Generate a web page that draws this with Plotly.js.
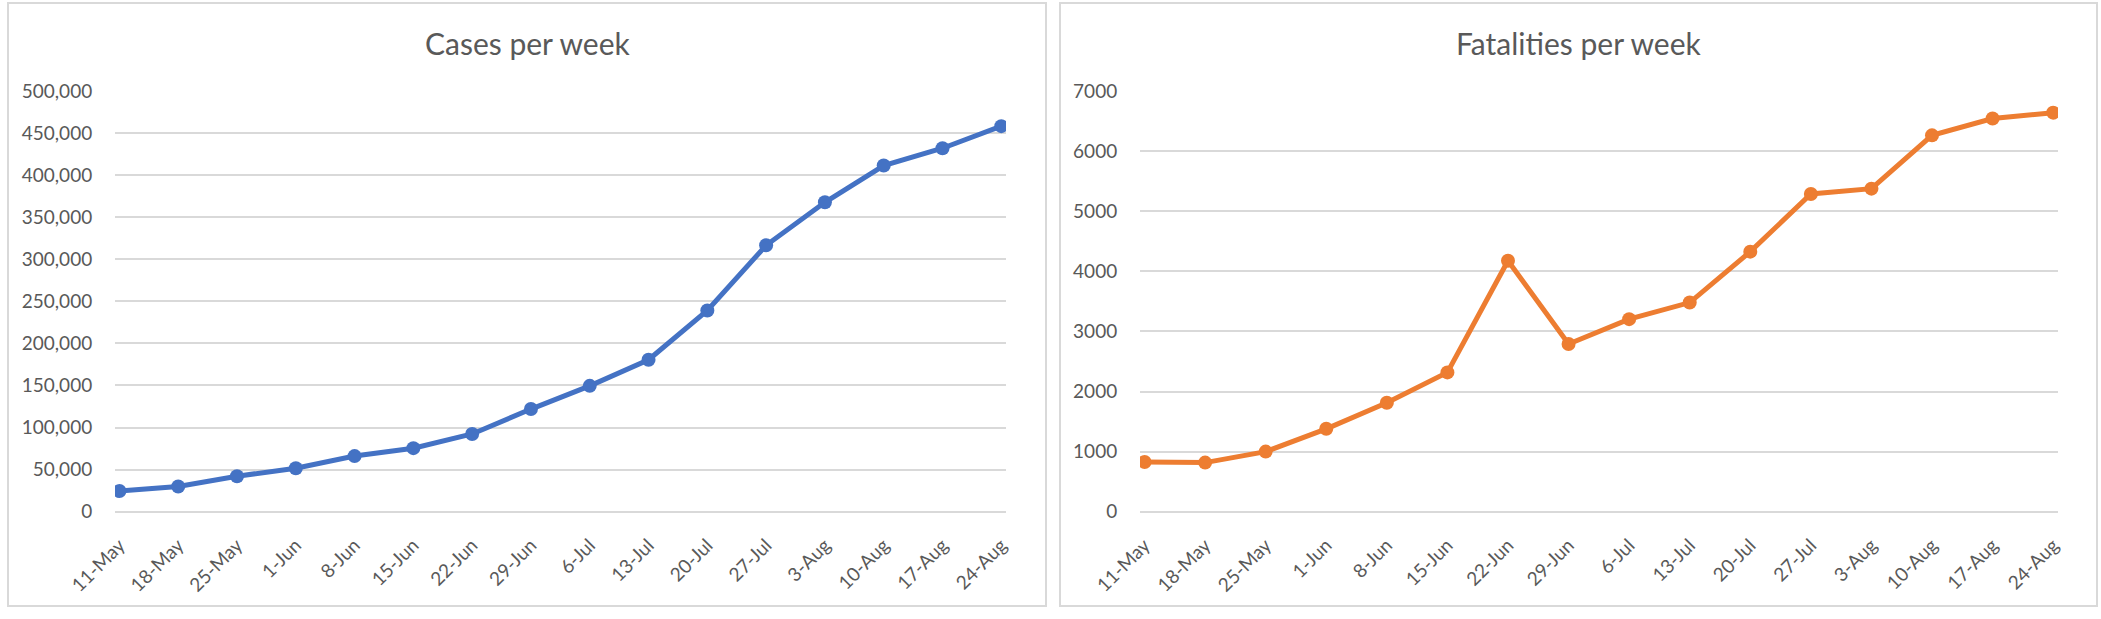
<!DOCTYPE html>
<html>
<head>
<meta charset="utf-8">
<script src="https://cdn.plot.ly/plotly-3.0.1.min.js"></script>
<style>
  html, body { margin: 0; padding: 0; background: #ffffff; }
  #chart { width: 2101px; height: 619px; }
</style>
</head>
<body>
<div id="chart"></div>
<script>
const weeks = ["11-May","18-May","25-May","1-Jun","8-Jun","15-Jun","22-Jun","29-Jun","6-Jul","13-Jul","20-Jul","27-Jul","3-Aug","10-Aug","17-Aug","24-Aug"];
const casesPerWeek = [24600, 30000, 42200, 51600, 66100, 75500, 92400, 122000, 149600, 180600, 239200, 316600, 367700, 411400, 432000, 458200];
const fatalitiesPerWeek = [828, 817, 1000, 1379, 1812, 2318, 4176, 2791, 3204, 3480, 4327, 5286, 5375, 6262, 6543, 6640];
const casesTitle = "Cases per week";
const fatalitiesTitle = "Fatalities per week";

const W = 2101, H = 619;
const px = v => v / W;
const py = v => 1 - v / H;

const FONT = "Lato, 'Open Sans', sans-serif";
const TXT = "#595959";
const GRID = "#d9d9d9";

const traces = [
  {
    x: weeks, y: casesPerWeek, type: "scatter", mode: "lines+markers",
    xaxis: "x", yaxis: "y",
    line: { color: "#4472C4", width: 5 },
    marker: { color: "#4472C4", size: 14 },
    hoverinfo: "x+y"
  },
  {
    x: weeks, y: fatalitiesPerWeek, type: "scatter", mode: "lines+markers",
    xaxis: "x2", yaxis: "y2",
    line: { color: "#ED7D31", width: 5 },
    marker: { color: "#ED7D31", size: 14 },
    hoverinfo: "x+y"
  }
];

const xCommon = {
  type: "category",
  range: [-0.075, 15.08],
  showgrid: false, zeroline: false, showline: false,
  tickangle: -45,
  ticks: "outside", ticklen: 14, tickcolor: "rgba(0,0,0,0)",
  tickfont: { family: FONT, size: 19, color: TXT },
  fixedrange: true
};
const yCommon = {
  showgrid: true, gridcolor: GRID, gridwidth: 2,
  zeroline: true, zerolinecolor: GRID, zerolinewidth: 2,
  showline: false,
  ticks: "outside", ticklen: 18, tickcolor: "rgba(0,0,0,0)",
  tickfont: { family: FONT, size: 19, color: TXT },
  fixedrange: true
};

const yBottom = py(511.7), yTop = py(91);

const layout = {
  width: W, height: H,
  margin: { l: 0, r: 0, t: 0, b: 0, pad: 0 },
  paper_bgcolor: "#ffffff", plot_bgcolor: "rgba(0,0,0,0)",
  showlegend: false,
  font: { family: FONT, color: TXT },
  xaxis: Object.assign({}, xCommon, { domain: [px(115), px(1006)], anchor: "y" }),
  yaxis: Object.assign({}, yCommon, { domain: [yBottom, yTop], anchor: "x", range: [0, 500000], dtick: 50000, tickformat: ",d" }),
  xaxis2: Object.assign({}, xCommon, { domain: [px(1140), px(2058)], anchor: "y2" }),
  yaxis2: Object.assign({}, yCommon, { domain: [yBottom, yTop], anchor: "x2", range: [0, 7000], dtick: 1000, tickformat: "d" }),
  shapes: [
    { type: "rect", xref: "paper", yref: "paper", x0: px(8), x1: px(1046), y0: py(606), y1: py(3), line: { color: GRID, width: 2 }, fillcolor: "rgba(0,0,0,0)", layer: "below" },
    { type: "rect", xref: "paper", yref: "paper", x0: px(1060), x1: px(2097), y0: py(606), y1: py(3), line: { color: GRID, width: 2 }, fillcolor: "rgba(0,0,0,0)", layer: "below" }
  ],
  annotations: [
    { text: casesTitle, xref: "paper", yref: "paper", x: px(527), y: py(43), xanchor: "center", yanchor: "middle", showarrow: false, font: { family: FONT, size: 30, color: TXT } },
    { text: fatalitiesTitle, xref: "paper", yref: "paper", x: px(1579), y: py(43), xanchor: "center", yanchor: "middle", showarrow: false, font: { family: FONT, size: 30, color: TXT } }
  ]
};

Plotly.newPlot("chart", traces, layout, { displayModeBar: false, staticPlot: true });
</script>
</body>
</html>
